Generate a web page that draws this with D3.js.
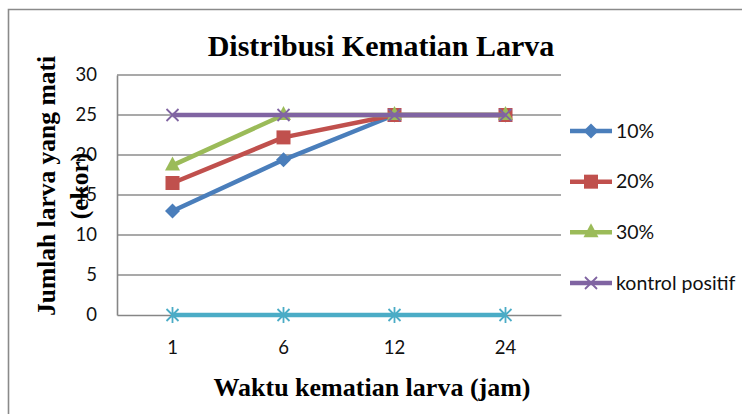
<!DOCTYPE html>
<html>
<head>
<meta charset="utf-8">
<script src="https://cdn.jsdelivr.net/npm/d3@7"></script>
<style>
  html, body { margin: 0; padding: 0; background: #fff; }
  svg { display: block; }
</style>
</head>
<body>
<svg id="chart" width="742" height="414"></svg>
<script>
// Observation times (hours) and dead-larva counts per treatment
const categories = ["1", "6", "12", "24"];
const seriesNames = ["10%", "20%", "30%", "kontrol positif", "kontrol negatif"];
const values10 = [13, 19.4, 25, 25];
const values20 = [16.5, 22.2, 25, 25];
const values30 = [18.7, 25, 25, 25];
const valuesKontrolPositif = [25, 25, 25, 25];
const valuesKontrolNegatif = [0, 0, 0, 0];
const yTicks = [0, 5, 10, 15, 20, 25, 30];
const legendNames = ["10%", "20%", "30%", "kontrol positif"];

const colors = ["#4A7EBB", "#C0504D", "#9BBB59", "#8064A2", "#4BACC6"];
const markers = ["diamond", "square", "triangle", "x", "star"];

const series = [values10, values20, values30, valuesKontrolPositif, valuesKontrolNegatif]
  .map((vals, i) => ({ name: seriesNames[i], values: vals, color: colors[i], marker: markers[i] }));

const svg = d3.select("#chart");
const plot = { left: 117, right: 561, top: 75, bottom: 315 };

// Outer chart frame (continues past the right and bottom edges)
svg.append("path")
  .attr("d", "M8.5,420 V9.5 H742")
  .attr("fill", "none")
  .attr("stroke", "#8a8a8a")
  .attr("stroke-width", 1.6);

const x = d3.scaleBand().domain(categories).range([plot.left, plot.right]);
const cx = c => x(c) + x.bandwidth() / 2;
const y = d3.scaleLinear().domain([0, 30]).range([plot.bottom, plot.top]);

// Horizontal gridlines
svg.append("g")
  .selectAll("line")
  .data(yTicks.filter(t => t > 0))
  .join("line")
  .attr("x1", plot.left).attr("x2", plot.right)
  .attr("y1", d => y(d)).attr("y2", d => y(d))
  .attr("stroke", "#8c8c8c")
  .attr("stroke-width", 1.4);

// Y axis
const yAxis = svg.append("g")
  .attr("transform", `translate(${plot.left},0)`)
  .call(d3.axisLeft(y).tickValues(yTicks).tickSize(0).tickPadding(20));
yAxis.select(".domain").attr("stroke", "#868686").attr("stroke-width", 1.6);
yAxis.selectAll("text")
  .attr("font-family", "Lato, 'Noto Sans', sans-serif")
  .attr("font-size", 18.5)
  .attr("fill", "#111");

// X axis
const xAxis = svg.append("g")
  .attr("transform", `translate(0,${plot.bottom})`)
  .call(d3.axisBottom(x).tickSize(0).tickPadding(26));
xAxis.select(".domain").attr("stroke", "#868686").attr("stroke-width", 1.6);
xAxis.selectAll("text")
  .attr("font-family", "Lato, 'Noto Sans', sans-serif")
  .attr("font-size", 18.5)
  .attr("fill", "#111");

// Marker shapes
function drawMarker(g, type, color, px, py) {
  if (type === "diamond") {
    g.append("path").attr("d", `M${px},${py - 7.5}L${px + 7.5},${py}L${px},${py + 7.5}L${px - 7.5},${py}Z`)
      .attr("fill", color);
  } else if (type === "square") {
    g.append("rect").attr("x", px - 7).attr("y", py - 7).attr("width", 14).attr("height", 14)
      .attr("fill", color);
  } else if (type === "triangle") {
    g.append("path").attr("d", `M${px},${py - 9}L${px + 7.5},${py + 5}L${px - 7.5},${py + 5}Z`)
      .attr("fill", color);
  } else if (type === "x") {
    g.append("path").attr("d", `M${px - 6},${py - 6}L${px + 6},${py + 6}M${px - 6},${py + 6}L${px + 6},${py - 6}`)
      .attr("stroke", color).attr("stroke-width", 1.8).attr("fill", "none");
  } else if (type === "star") {
    g.append("path").attr("d", `M${px - 6},${py - 6}L${px + 6},${py + 6}M${px - 6},${py + 6}L${px + 6},${py - 6}M${px},${py - 8}V${py + 8}`)
      .attr("stroke", color).attr("stroke-width", 1.8).attr("fill", "none");
  }
}

// Series: line then markers, in series order
const line = d3.line().x((d, i) => cx(categories[i])).y(d => y(d));
series.forEach(s => {
  const g = svg.append("g");
  g.append("path")
    .attr("d", line(s.values))
    .attr("fill", "none")
    .attr("stroke", s.color)
    .attr("stroke-width", 4.5)
    .attr("stroke-linejoin", "round");
  s.values.forEach((v, i) => drawMarker(g, s.marker, s.color, cx(categories[i]), y(v)));
});

// Legend
const legendY = d3.scalePoint().domain(legendNames).range([131, 283]);
legendNames.forEach((name, i) => {
  const s = series[i];
  const g = svg.append("g");
  const ly = legendY(name);
  g.append("line").attr("x1", 570).attr("x2", 612).attr("y1", ly).attr("y2", ly)
    .attr("stroke", s.color).attr("stroke-width", 4.5);
  drawMarker(g, s.marker, s.color, 591, ly);
  g.append("text").attr("x", 616).attr("y", ly).attr("dy", "0.35em")
    .attr("font-family", "Lato, 'Noto Sans', sans-serif")
    .attr("font-size", 19.5)
    .attr("fill", "#111")
    .text(name);
});

// Titles
svg.append("text")
  .attr("x", 381).attr("y", 56)
  .attr("text-anchor", "middle")
  .attr("font-family", "'Liberation Serif', 'Times New Roman', serif")
  .attr("font-weight", "bold")
  .attr("font-size", 30)
  .attr("fill", "#000")
  .text("Distribusi Kematian Larva");

svg.append("text")
  .attr("x", 372).attr("y", 396)
  .attr("text-anchor", "middle")
  .attr("font-family", "'Liberation Serif', 'Times New Roman', serif")
  .attr("font-weight", "bold")
  .attr("font-size", 26)
  .attr("fill", "#000")
  .text("Waktu kematian larva (jam)");

const yTitle = svg.append("text")
  .attr("transform", "translate(46,186) rotate(-90)")
  .attr("text-anchor", "middle")
  .attr("font-family", "'Liberation Serif', 'Times New Roman', serif")
  .attr("font-weight", "bold")
  .attr("font-size", 25.5)
  .attr("fill", "#000");
yTitle.append("tspan").attr("x", 0).attr("dy", "0.35em").text("Jumlah larva yang mati");
yTitle.append("tspan").attr("x", 0).attr("dy", "1.3em").text("(ekor)");
</script>
</body>
</html>
